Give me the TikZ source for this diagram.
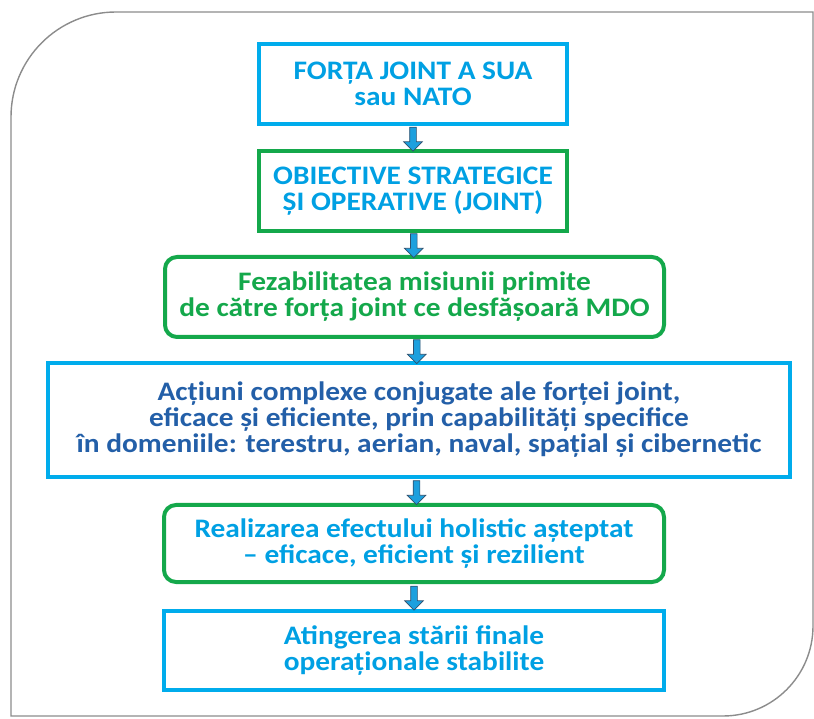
\documentclass[tikz,border=0pt]{standalone}
\usepackage{fontspec}
\setmainfont{Carlito}[FakeStretch=1.1]
\usepackage{tikz}
\usetikzlibrary{shapes.arrows, positioning}

\definecolor{cyanline}{RGB}{0,172,236}
\definecolor{cyantext}{RGB}{0,160,227}
\definecolor{greenline}{RGB}{20,168,75}
\definecolor{navytext}{RGB}{35,95,168}
\definecolor{arrowfill}{RGB}{28,160,222}
\definecolor{arrowedge}{RGB}{45,80,110}
\definecolor{framegray}{RGB}{140,140,140}

\begin{document}
\begin{tikzpicture}[
	every node/.style={font=\bfseries\fontsize{19}{18.5}\selectfont, align=center},
	bluebox/.style={draw=cyanline, line width=0.1cm, minimum width=#1},
	greenbox/.style={draw=greenline, line width=0.1cm, minimum width=#1},
	downarrow/.style={single arrow, shape border rotate=270, fill=arrowfill, draw=arrowedge,
		line width=0.5pt, inner sep=0.075cm, single arrow head extend=0.15cm,
		minimum height=0.6cm, font=\tiny}
	]
	\useasboundingbox (0,0) rectangle (20.35,17.95);
	% outer frame, only two corners rounded
	\draw[framegray, line width=1pt] (0.275,0.05) -- (0.275,15.025)
		arc[start angle=180, end angle=90, radius=2.625] -- (20.325,17.65) -- (20.325,2.3)
		arc[start angle=0, end angle=-90, radius=2.25] -- cycle;

	\node[bluebox=7.7cm, minimum height=2cm, text=cyantext] (b1) at (10.325,15.85)
		{FORȚA JOINT A SUA\\sau NATO};
	\node[greenbox=7.7cm, minimum height=2cm, text=cyantext] (b2) at (10.325,13.175)
		{OBIECTIVE STRATEGICE\\ȘI OPERATIVE (JOINT)};
	\node[greenbox=12.475cm, minimum height=2cm, rounded corners=0.3cm, text=greenline] (b3) at (10.3625,10.525)
		{Fezabilitatea misiunii primite\\de către forța joint ce desfășoară MDO};
	\node[bluebox=18.55cm, minimum height=2.85cm, text=navytext] (b4) at (10.475,7.45)
		{Acțiuni complexe conjugate ale forței joint,\\eficace și eficiente, prin capabilități specifice\\în domeniile: terestru, aerian, naval, spațial și cibernetic};
	\node[greenbox=12.5cm, minimum height=1.925cm, rounded corners=0.3cm, text=cyantext] (b5) at (10.35,4.3625)
		{Realizarea efectului holistic așteptat\\– eficace, eficient și rezilient};
	\node[bluebox=12.5cm, minimum height=1.975cm, text=cyantext] (b6) at (10.35,1.6875)
		{Atingerea stării finale\\operaționale stabilite};

	\foreach \a/\b in {b1/b2, b2/b3, b3/b4, b4/b5, b5/b6}
		\path (\a.south) -- (\b.north) node[midway, downarrow] {};
\end{tikzpicture}
\end{document}
